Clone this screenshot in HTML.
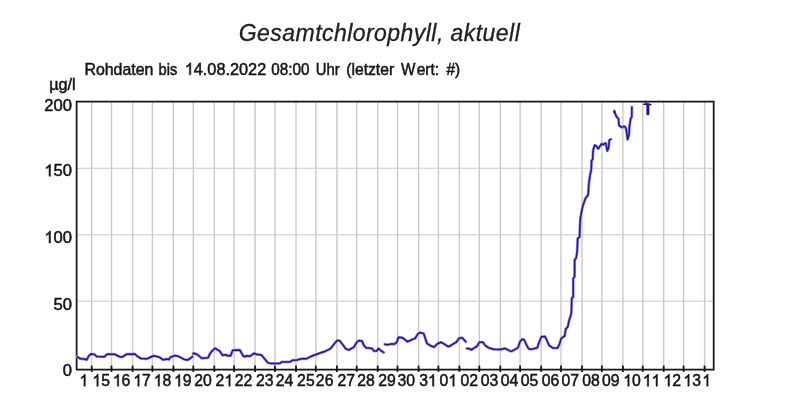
<!DOCTYPE html>
<html lang="de">
<head>
<meta charset="utf-8">
<title>Gesamtchlorophyll, aktuell</title>
<style>
html,body{margin:0;padding:0;background:#ffffff;}
body{width:789px;height:411px;overflow:hidden;font-family:"Liberation Sans",sans-serif;}
svg{display:block;}
text{font-family:"Liberation Sans",sans-serif;fill:#141414;}
.ax{stroke:#141414;stroke-width:0.5px;}
.title{font-style:italic;font-size:23px;fill:#202020;stroke:#202020;stroke-width:0.3px;letter-spacing:0.45px;}

.ax{font-size:16.6px;}
.grid line{stroke:#cacaca;stroke-width:1.4;}
.grid line.h{stroke-width:1.1;}
.data path{fill:none;stroke:#1d1692;stroke-width:1.5;stroke-linejoin:round;stroke-linecap:round;}
.halo path{fill:none;stroke:#9c96ec;stroke-width:2.9;stroke-linejoin:round;stroke-linecap:round;}
</style>
</head>
<body>
<svg width="789" height="411" viewBox="0 0 789 411">
<defs><filter id="soft" x="-2%" y="-2%" width="104%" height="104%"><feGaussianBlur stdDeviation="0.55"/></filter>
<filter id="soft2" x="-2%" y="-10%" width="104%" height="120%"><feGaussianBlur stdDeviation="0.35"/></filter>
<g id="one"><path d="M763 0 L583 0 L583 -1147 Q518 -1085 412.5 -1023 Q307 -961 223 -930 L223 -1104 Q374 -1175 487 -1276 Q600 -1377 647 -1472 L763 -1472 Z" transform="scale(0.00810546875)" fill="#141414" stroke="#141414" stroke-width="60"/></g></defs>
<rect x="0" y="0" width="789" height="411" fill="#ffffff"/>
<g filter="url(#soft2)"><text class="title" x="379.5" y="40.6" text-anchor="middle">Gesamtchlorophyll, aktuell</text></g>
<g filter="url(#soft)">

<text class="ax" transform="translate(84.43 74.80) scale(0.959 1.000)">Rohdaten</text>
<text class="ax" transform="translate(158.62 74.80) scale(0.882 1.000)">bis</text>
<g transform="translate(184.73 74.80) scale(0.981 1.000)"><use href="#one" x="0.00" y="0"/><text class="ax" x="9.23" y="0">4.08.2022</text></g>
<text class="ax" transform="translate(271.34 74.80) scale(0.920 1.000)">08:00</text>
<text class="ax" transform="translate(315.66 74.80) scale(0.895 1.000)">Uhr</text>
<text class="ax" transform="translate(346.26 74.80) scale(0.945 1.000)">(letzter</text>
<text class="ax" transform="translate(401.00 74.80) scale(0.919 1.000)">W</text>
<text class="ax" transform="translate(416.68 74.80) scale(0.938 1.000)">ert:</text>
<text class="ax" transform="translate(446.50 74.80) scale(0.929 1.000)">#)</text>
<text class="ax" transform="translate(49.13 90.00) scale(0.977 1.000)">µg/l</text>
<g class="grid">
<line x1="91.7" y1="101.6" x2="91.7" y2="369.7"/>
<line x1="111.5" y1="101.6" x2="111.5" y2="369.7"/>
<line x1="132.6" y1="101.6" x2="132.6" y2="369.7"/>
<line x1="152.4" y1="101.6" x2="152.4" y2="369.7"/>
<line x1="173.4" y1="101.6" x2="173.4" y2="369.7"/>
<line x1="193.3" y1="101.6" x2="193.3" y2="369.7"/>
<line x1="214.3" y1="101.6" x2="214.3" y2="369.7"/>
<line x1="234.1" y1="101.6" x2="234.1" y2="369.7"/>
<line x1="255.1" y1="101.6" x2="255.1" y2="369.7"/>
<line x1="275.0" y1="101.6" x2="275.0" y2="369.7"/>
<line x1="296.0" y1="101.6" x2="296.0" y2="369.7"/>
<line x1="315.8" y1="101.6" x2="315.8" y2="369.7"/>
<line x1="336.9" y1="101.6" x2="336.9" y2="369.7"/>
<line x1="356.7" y1="101.6" x2="356.7" y2="369.7"/>
<line x1="377.7" y1="101.6" x2="377.7" y2="369.7"/>
<line x1="397.5" y1="101.6" x2="397.5" y2="369.7"/>
<line x1="418.6" y1="101.6" x2="418.6" y2="369.7"/>
<line x1="438.4" y1="101.6" x2="438.4" y2="369.7"/>
<line x1="459.4" y1="101.6" x2="459.4" y2="369.7"/>
<line x1="479.3" y1="101.6" x2="479.3" y2="369.7"/>
<line x1="500.3" y1="101.6" x2="500.3" y2="369.7"/>
<line x1="520.1" y1="101.6" x2="520.1" y2="369.7"/>
<line x1="541.2" y1="101.6" x2="541.2" y2="369.7"/>
<line x1="561.0" y1="101.6" x2="561.0" y2="369.7"/>
<line x1="582.0" y1="101.6" x2="582.0" y2="369.7"/>
<line x1="601.9" y1="101.6" x2="601.9" y2="369.7"/>
<line x1="622.9" y1="101.6" x2="622.9" y2="369.7"/>
<line x1="642.7" y1="101.6" x2="642.7" y2="369.7"/>
<line x1="663.7" y1="101.6" x2="663.7" y2="369.7"/>
<line x1="683.6" y1="101.6" x2="683.6" y2="369.7"/>
<line x1="704.6" y1="101.6" x2="704.6" y2="369.7"/>
<line class="h" x1="76.6" y1="168.2" x2="713.7" y2="168.2"/>
<line class="h" x1="76.6" y1="234.8" x2="713.7" y2="234.8"/>
<line class="h" x1="76.6" y1="301.2" x2="713.7" y2="301.2"/>
</g>
<g stroke="#161616" stroke-width="1.8">
<line x1="91.7" y1="365.6" x2="91.7" y2="371.9"/>
<line x1="111.5" y1="365.6" x2="111.5" y2="371.9"/>
<line x1="132.6" y1="365.6" x2="132.6" y2="371.9"/>
<line x1="152.4" y1="365.6" x2="152.4" y2="371.9"/>
<line x1="173.4" y1="365.6" x2="173.4" y2="371.9"/>
<line x1="193.3" y1="365.6" x2="193.3" y2="371.9"/>
<line x1="214.3" y1="365.6" x2="214.3" y2="371.9"/>
<line x1="234.1" y1="365.6" x2="234.1" y2="371.9"/>
<line x1="255.1" y1="365.6" x2="255.1" y2="371.9"/>
<line x1="275.0" y1="365.6" x2="275.0" y2="371.9"/>
<line x1="296.0" y1="365.6" x2="296.0" y2="371.9"/>
<line x1="315.8" y1="365.6" x2="315.8" y2="371.9"/>
<line x1="336.9" y1="365.6" x2="336.9" y2="371.9"/>
<line x1="356.7" y1="365.6" x2="356.7" y2="371.9"/>
<line x1="377.7" y1="365.6" x2="377.7" y2="371.9"/>
<line x1="397.5" y1="365.6" x2="397.5" y2="371.9"/>
<line x1="418.6" y1="365.6" x2="418.6" y2="371.9"/>
<line x1="438.4" y1="365.6" x2="438.4" y2="371.9"/>
<line x1="459.4" y1="365.6" x2="459.4" y2="371.9"/>
<line x1="479.3" y1="365.6" x2="479.3" y2="371.9"/>
<line x1="500.3" y1="365.6" x2="500.3" y2="371.9"/>
<line x1="520.1" y1="365.6" x2="520.1" y2="371.9"/>
<line x1="541.2" y1="365.6" x2="541.2" y2="371.9"/>
<line x1="561.0" y1="365.6" x2="561.0" y2="371.9"/>
<line x1="582.0" y1="365.6" x2="582.0" y2="371.9"/>
<line x1="601.9" y1="365.6" x2="601.9" y2="371.9"/>
<line x1="622.9" y1="365.6" x2="622.9" y2="371.9"/>
<line x1="642.7" y1="365.6" x2="642.7" y2="371.9"/>
<line x1="663.7" y1="365.6" x2="663.7" y2="371.9"/>
<line x1="683.6" y1="365.6" x2="683.6" y2="371.9"/>
<line x1="704.6" y1="365.6" x2="704.6" y2="371.9"/>
</g>
<path d="M76.6 369.7 L76.6 101.6 L713.7 101.6 L713.7 369.7 Z" fill="none" stroke="#161616" stroke-width="1.75" stroke-linejoin="miter"/>
<g class="halo">
<path d="M77.1 356.8 L80.1 358.5 L85.2 359.3 L86.7 359.8 L88.8 355.8 L90.8 354.1 L94.3 354.3 L96.9 356.6 L104.5 356.8 L107.0 354.3 L114.6 354.3 L117.7 355.8 L120.7 357.1 L122.7 356.8 L126.3 354.3 L134.9 354.0 L137.4 356.3 L141.0 358.5 L147.1 358.8 L149.1 357.8 L153.6 355.8 L159.2 357.1 L163.3 359.8 L166.8 359.1 L168.8 359.6 L170.3 357.3 L174.9 355.6 L178.5 356.3 L184.5 359.6 L187.6 360.0 L191.1 357.8 L192.4 356.6"/>
<path d="M193.0 353.6 L193.9 353.2 L197.7 354.8 L201.8 358.3 L207.9 357.8 L210.9 352.2 L215.0 348.2 L220.0 351.4 L222.5 355.3 L226.1 354.8 L227.6 355.8 L230.6 355.8 L232.7 350.2 L239.8 350.0 L242.8 355.3 L244.8 356.8 L246.9 355.8 L249.9 356.3 L254.0 353.3 L256.5 354.3 L261.6 355.1 L264.6 358.8 L267.7 362.6 L270.7 363.4 L279.8 363.4 L281.9 361.9 L290.0 361.9 L292.5 360.3 L297.1 360.0 L301.1 358.8 L306.2 358.8 L311.2 356.3 L315.3 354.8 L319.3 353.3 L325.4 351.2 L330.5 348.7 L334.0 344.1 L337.1 340.6 L339.6 340.6 L342.7 344.6 L345.7 348.7 L348.7 350.0 L353.8 347.2 L356.9 342.1 L358.9 340.6 L361.9 340.9 L364.0 345.6 L366.0 347.7 L372.1 348.4 L373.8 351.0 L376.6 350.9 L378.6 348.5 L381.2 350.9 L383.7 352.4"/>
<path d="M384.7 344.3 L387.7 344.8 L391.8 343.8 L393.8 344.3 L396.9 342.2 L398.4 337.2 L402.4 337.7 L407.5 341.7 L410.6 340.2 L415.1 338.4 L417.7 334.1 L419.7 332.6 L423.7 333.6 L425.3 338.2 L426.8 343.3 L430.8 345.8 L433.9 347.1 L437.4 343.8 L441.0 342.2 L444.0 343.8 L447.6 346.3 L449.0 346.5 L452.6 344.3 L456.2 342.2 L459.2 338.2 L462.2 337.7 L465.8 341.7"/>
<path d="M466.8 348.5 L469.3 348.8 L471.4 349.8 L474.4 347.8 L476.9 346.3 L479.5 342.2 L483.0 342.2 L485.1 345.3 L488.6 347.8 L493.7 349.3 L500.8 349.5 L504.8 348.3 L509.9 350.9 L511.9 351.2 L516.0 348.8 L518.0 347.6 L520.1 341.4 L522.1 339.2 L524.1 339.7 L526.2 344.3 L528.7 348.8 L531.2 349.3 L537.3 347.8 L539.3 341.7 L541.4 336.7 L544.9 336.4 L546.9 340.2 L549.0 345.3 L553.0 348.1 L557.6 348.1 L559.6 343.8 L561.1 338.6 L564.7 335.8 L565.7 329.2 L567.9 326.6 L568.7 321.8 L570.3 316.7 L571.3 313.2 L571.6 305.0 L571.8 298.0 L573.2 297.0 L573.2 278.5 L574.6 276.6 L574.6 260.0 L576.1 258.1 L577.1 252.2 L577.7 238.6 L579.6 236.7 L579.8 228.0 L580.4 218.1 L582.4 207.4 L585.3 198.6 L588.2 194.7 L588.8 184.0 L590.2 174.3 L591.3 169.5 L591.6 160.5 L592.6 159.5 L593.1 150.3 L594.6 145.3 L596.2 145.8 L598.2 148.8 L600.2 145.8 L601.7 143.8 L603.3 144.8 L604.8 143.3 L605.8 143.3 L607.3 150.9 L608.5 148.3 L609.3 140.2 L610.9 139.2"/>
<path d="M614.3 110.9 L615.4 114.2 L616.9 117.3 L618.5 118.8 L619.0 125.4 L621.5 127.4 L624.0 126.4 L625.6 127.4 L626.3 130.0 L627.6 139.5 L629.1 134.1 L629.4 127.4 L630.6 118.8 L631.8 116.8 L631.9 107.1"/>
</g>
<g class="data">
<path d="M77.1 356.8 L80.1 358.5 L85.2 359.3 L86.7 359.8 L88.8 355.8 L90.8 354.1 L94.3 354.3 L96.9 356.6 L104.5 356.8 L107.0 354.3 L114.6 354.3 L117.7 355.8 L120.7 357.1 L122.7 356.8 L126.3 354.3 L134.9 354.0 L137.4 356.3 L141.0 358.5 L147.1 358.8 L149.1 357.8 L153.6 355.8 L159.2 357.1 L163.3 359.8 L166.8 359.1 L168.8 359.6 L170.3 357.3 L174.9 355.6 L178.5 356.3 L184.5 359.6 L187.6 360.0 L191.1 357.8 L192.4 356.6"/>
<path d="M193.0 353.6 L193.9 353.2 L197.7 354.8 L201.8 358.3 L207.9 357.8 L210.9 352.2 L215.0 348.2 L220.0 351.4 L222.5 355.3 L226.1 354.8 L227.6 355.8 L230.6 355.8 L232.7 350.2 L239.8 350.0 L242.8 355.3 L244.8 356.8 L246.9 355.8 L249.9 356.3 L254.0 353.3 L256.5 354.3 L261.6 355.1 L264.6 358.8 L267.7 362.6 L270.7 363.4 L279.8 363.4 L281.9 361.9 L290.0 361.9 L292.5 360.3 L297.1 360.0 L301.1 358.8 L306.2 358.8 L311.2 356.3 L315.3 354.8 L319.3 353.3 L325.4 351.2 L330.5 348.7 L334.0 344.1 L337.1 340.6 L339.6 340.6 L342.7 344.6 L345.7 348.7 L348.7 350.0 L353.8 347.2 L356.9 342.1 L358.9 340.6 L361.9 340.9 L364.0 345.6 L366.0 347.7 L372.1 348.4 L373.8 351.0 L376.6 350.9 L378.6 348.5 L381.2 350.9 L383.7 352.4"/>
<path d="M384.7 344.3 L387.7 344.8 L391.8 343.8 L393.8 344.3 L396.9 342.2 L398.4 337.2 L402.4 337.7 L407.5 341.7 L410.6 340.2 L415.1 338.4 L417.7 334.1 L419.7 332.6 L423.7 333.6 L425.3 338.2 L426.8 343.3 L430.8 345.8 L433.9 347.1 L437.4 343.8 L441.0 342.2 L444.0 343.8 L447.6 346.3 L449.0 346.5 L452.6 344.3 L456.2 342.2 L459.2 338.2 L462.2 337.7 L465.8 341.7"/>
<path d="M466.8 348.5 L469.3 348.8 L471.4 349.8 L474.4 347.8 L476.9 346.3 L479.5 342.2 L483.0 342.2 L485.1 345.3 L488.6 347.8 L493.7 349.3 L500.8 349.5 L504.8 348.3 L509.9 350.9 L511.9 351.2 L516.0 348.8 L518.0 347.6 L520.1 341.4 L522.1 339.2 L524.1 339.7 L526.2 344.3 L528.7 348.8 L531.2 349.3 L537.3 347.8 L539.3 341.7 L541.4 336.7 L544.9 336.4 L546.9 340.2 L549.0 345.3 L553.0 348.1 L557.6 348.1 L559.6 343.8 L561.1 338.6 L564.7 335.8 L565.7 329.2 L567.9 326.6 L568.7 321.8 L570.3 316.7 L571.3 313.2 L571.6 305.0 L571.8 298.0 L573.2 297.0 L573.2 278.5 L574.6 276.6 L574.6 260.0 L576.1 258.1 L577.1 252.2 L577.7 238.6 L579.6 236.7 L579.8 228.0 L580.4 218.1 L582.4 207.4 L585.3 198.6 L588.2 194.7 L588.8 184.0 L590.2 174.3 L591.3 169.5 L591.6 160.5 L592.6 159.5 L593.1 150.3 L594.6 145.3 L596.2 145.8 L598.2 148.8 L600.2 145.8 L601.7 143.8 L603.3 144.8 L604.8 143.3 L605.8 143.3 L607.3 150.9 L608.5 148.3 L609.3 140.2 L610.9 139.2"/>
<path d="M614.3 110.9 L615.4 114.2 L616.9 117.3 L618.5 118.8 L619.0 125.4 L621.5 127.4 L624.0 126.4 L625.6 127.4 L626.3 130.0 L627.6 139.5 L629.1 134.1 L629.4 127.4 L630.6 118.8 L631.8 116.8 L631.9 107.1"/>
<circle cx="614.4" cy="112.0" r="1.2" fill="#1d1692" stroke="none"/>
<path d="M643.8 104.3 L650.9 104.6" />
<path d="M645.8 101.8 L645.9 104.3" />
<path d="M647.9 104.6 L647.9 113.8" style="stroke-width:3.0"/>
</g>
<text class="ax" transform="translate(44.30 110.65) scale(1.000 1.000)">200</text>
<g transform="translate(44.30 176.20) scale(1.000 1.000)"><use href="#one" x="0.00" y="0"/><text class="ax" x="9.23" y="0">50</text></g>
<g transform="translate(44.30 243.00) scale(1.000 1.000)"><use href="#one" x="0.00" y="0"/><text class="ax" x="9.23" y="0">00</text></g>
<text class="ax" transform="translate(53.54 309.60) scale(1.000 1.000)">50</text>
<text class="ax" transform="translate(62.77 375.80) scale(1.000 1.000)">0</text>
<g transform="translate(79.50 386.20) scale(0.940 1.000)"><use href="#one" x="0.00" y="0"/></g>
<g transform="translate(92.36 386.20) scale(0.950 1.000)"><use href="#one" x="0.00" y="0"/><text class="ax" x="9.23" y="0">5</text></g>
<g transform="translate(112.81 386.20) scale(0.950 1.000)"><use href="#one" x="0.00" y="0"/><text class="ax" x="9.23" y="0">6</text></g>
<g transform="translate(133.33 386.20) scale(0.950 1.000)"><use href="#one" x="0.00" y="0"/><text class="ax" x="9.23" y="0">7</text></g>
<g transform="translate(153.66 386.20) scale(0.950 1.000)"><use href="#one" x="0.00" y="0"/><text class="ax" x="9.23" y="0">8</text></g>
<g transform="translate(173.98 386.20) scale(0.950 1.000)"><use href="#one" x="0.00" y="0"/><text class="ax" x="9.23" y="0">9</text></g>
<text class="ax" transform="translate(194.22 386.20) scale(0.950 1.000)">20</text>
<g transform="translate(215.58 386.20) scale(0.950 1.000)"><text class="ax" x="0.00" y="0">2</text><use href="#one" x="9.23" y="0"/></g>
<text class="ax" transform="translate(234.80 386.20) scale(0.950 1.000)">22</text>
<text class="ax" transform="translate(256.07 386.20) scale(0.950 1.000)">23</text>
<text class="ax" transform="translate(275.74 386.20) scale(0.950 1.000)">24</text>
<text class="ax" transform="translate(297.12 386.20) scale(0.950 1.000)">25</text>
<text class="ax" transform="translate(315.87 386.20) scale(0.950 1.000)">26</text>
<text class="ax" transform="translate(337.50 386.20) scale(0.950 1.000)">27</text>
<text class="ax" transform="translate(357.22 386.20) scale(0.950 1.000)">28</text>
<text class="ax" transform="translate(378.30 386.20) scale(0.950 1.000)">29</text>
<text class="ax" transform="translate(397.43 386.20) scale(0.950 1.000)">30</text>
<g transform="translate(419.24 386.20) scale(0.950 1.000)"><text class="ax" x="0.00" y="0">3</text><use href="#one" x="9.23" y="0"/></g>
<g transform="translate(439.54 386.20) scale(0.950 1.000)"><text class="ax" x="0.00" y="0">0</text><use href="#one" x="9.23" y="0"/></g>
<text class="ax" transform="translate(460.51 386.20) scale(0.950 1.000)">02</text>
<text class="ax" transform="translate(480.68 386.20) scale(0.950 1.000)">03</text>
<text class="ax" transform="translate(500.70 386.20) scale(0.950 1.000)">04</text>
<text class="ax" transform="translate(520.83 386.20) scale(0.950 1.000)">05</text>
<text class="ax" transform="translate(541.78 386.20) scale(0.950 1.000)">06</text>
<text class="ax" transform="translate(561.46 386.20) scale(0.950 1.000)">07</text>
<text class="ax" transform="translate(582.13 386.20) scale(0.950 1.000)">08</text>
<text class="ax" transform="translate(601.96 386.20) scale(0.950 1.000)">09</text>
<g transform="translate(623.26 386.20) scale(0.950 1.000)"><use href="#one" x="0.00" y="0"/><text class="ax" x="9.23" y="0">0</text></g>
<g transform="translate(642.82 386.20) scale(0.950 1.000)"><use href="#one" x="0.00" y="0"/><use href="#one" x="9.23" y="0"/></g>
<g transform="translate(663.58 386.20) scale(0.950 1.000)"><use href="#one" x="0.00" y="0"/><text class="ax" x="9.23" y="0">2</text></g>
<g transform="translate(683.36 386.20) scale(0.950 1.000)"><use href="#one" x="0.00" y="0"/><text class="ax" x="9.23" y="0">3</text></g>
<g transform="translate(702.30 386.20) scale(0.940 1.000)"><use href="#one" x="0.00" y="0"/></g>
</g>
</svg>
</body>
</html>
